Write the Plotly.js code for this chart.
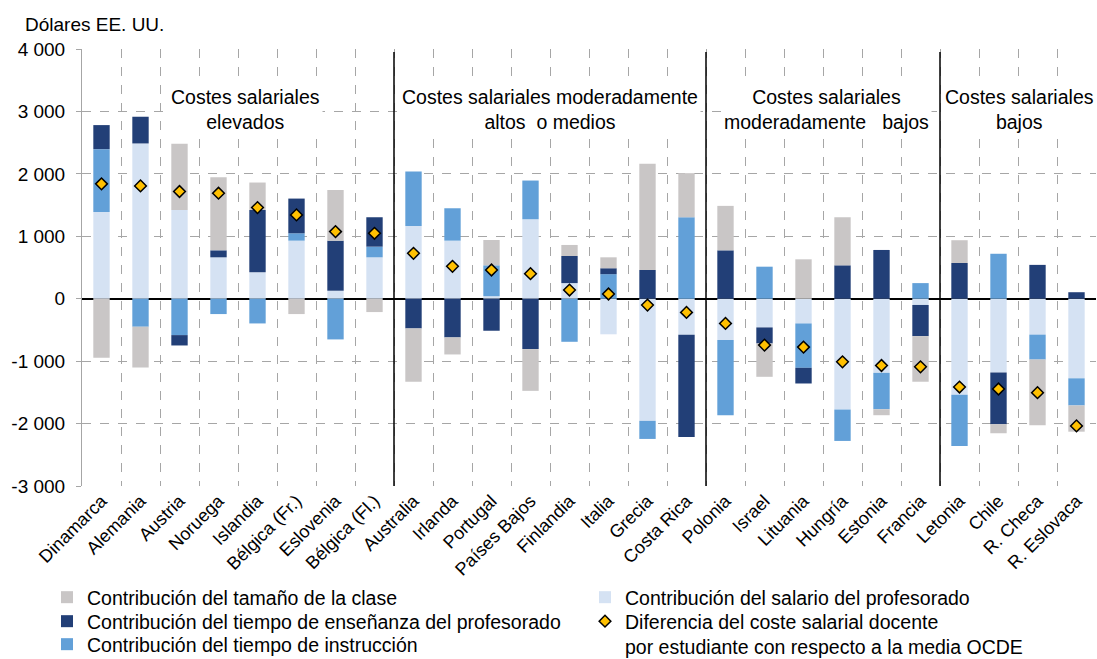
<!DOCTYPE html>
<html>
<head>
<meta charset="utf-8">
<script src="https://cdn.plot.ly/plotly-3.0.1.min.js"></script>
<style>html,body{margin:0;padding:0;background:#fff;}#chart{width:1097px;height:659px;}</style>
</head>
<body>
<div id="chart"></div>
<script>
var countries = ['Dinamarca','Alemania','Austria','Noruega','Islandia','Bélgica (Fr.)','Eslovenia','Bélgica (Fl.)','Australia','Irlanda','Portugal','Países Bajos','Finlandia','Italia','Grecia','Costa Rica','Polonia','Israel','Lituania','Hungría','Estonia','Francia','Letonia','Chile','R. Checa','R. Eslovaca'];

var salary      = [1390, 2487, 1422, 663, 422, 930, 128, 663, 1166, 930, 40, 1273, 250, -570, -1957, -578, -663, -460, -396, -1775, -1187, -100, -1540, -1180, -575, -1275];
var instruction = [1006, -449, -583, -246, -396, 118, -652, 171, 871, 519, 495, 620, -690, 393, -289, 1305, -1203, 513, -711, -503, -583, 250, -819, 720, -400, -435];
var teaching    = [385, 428, -166, 112, 1000, 556, 802, 471, -476, -620, -513, -807, 434, 95, 460, -1636, 775, -257, -251, 535, 781, -500, 572, -830, 542, 104];
var classSize   = [-947, -653, 1060, 1172, 439, -246, 813, -214, -856, -273, 406, -669, 177, 175, 1700, 706, 712, -534, 631, 770, -96, -730, 365, -145, -1050, -420];
var difference  = [1840, 1807, 1717, 1690, 1460, 1342, 1075, 1048, 727, 519, 460, 401, 139, 75, -102, -219, -396, -743, -775, -1011, -1070, -1091, -1415, -1446, -1505, -2038];

var yTickVals = [-3000, -2000, -1000, 0, 1000, 2000, 3000, 4000];
var yTickText = ['-3 000', '-2 000', '-1 000', '0', '1 000', '2 000', '3 000', '4 000'];

var groupTitles = ['Costes salariales<br>elevados', 'Costes salariales moderadamente<br>altos  o medios', 'Costes salariales<br>moderadamente   bajos', 'Costes salariales<br>bajos'];
var groupCenters = [3.68, 11.5, 18.59, 23.54];
var separators = [7.5, 15.5, 21.5];

var names = {
  cls: 'Contribución del tamaño de la clase',
  sal: 'Contribución del salario del profesorado',
  tea: 'Contribución del tiempo de enseñanza del profesorado',
  ins: 'Contribución del tiempo de instrucción',
  dif: 'Diferencia del coste salarial docente<br>por estudiante con respecto a la media OCDE'
};

var FONT = 'Liberation Sans, Arial, sans-serif';
var cLight = '#D5E2F3', cMid = '#62A0D8', cDark = '#223F77', cGray = '#C9C6C6';

var traces = [
  {type:'bar', x:countries, y:salary, name:names.sal, marker:{color:cLight}, legend:'legend4'},
  {type:'bar', x:countries, y:instruction, name:names.ins, marker:{color:cMid}, legend:'legend3'},
  {type:'bar', x:countries, y:teaching, name:names.tea, marker:{color:cDark}, legend:'legend2'},
  {type:'bar', x:countries, y:classSize, name:names.cls, marker:{color:cGray}, legend:'legend'},
  {type:'scatter', mode:'markers', x:countries, y:difference, name:names.dif,
   marker:{symbol:'diamond', size:9, color:'#FFC000', line:{color:'#000', width:1.5}}, legend:'legend5'}
];

var shapes = separators.map(function(s){
  return {type:'line', xref:'x', yref:'y', x0:s, x1:s, y0:-3000, y1:3950, line:{color:'#000', width:1.5}, layer:'above'};
});

var annotations = groupTitles.map(function(t, i){
  return {xref:'x', yref:'y', x:groupCenters[i], y:3030, text:t, showarrow:false,
          font:{family:FONT, size:19.5, color:'#000'}, bgcolor:'#fff', borderpad:2, align:'center'};
});
annotations.push({xref:'paper', yref:'paper', x:-0.0582, y:(486-25)/437, xanchor:'left', yanchor:'middle',
  text:'Dólares EE. UU.', showarrow:false, font:{family:FONT, size:19, color:'#000'}});

function legendAt(leftPx, topPx, valign){
  return {xref:'container', yref:'container', x:leftPx/1097, y:1-topPx/659, xanchor:'left', yanchor:'top',
          valign:valign || 'middle', orientation:'v', font:{family:FONT, size:19.5, color:'#000'},
          tracegroupgap:0, bgcolor:'rgba(0,0,0,0)', borderwidth:0};
}

var layout = {
  width:1097, height:659,
  margin:{l:82, r:1, t:49, b:173, autoexpand:false},
  paper_bgcolor:'#fff', plot_bgcolor:'#fff',
  font:{family:FONT, color:'#000'},
  barmode:'relative', bargap:0.58,
  xaxis:{type:'category', range:[-0.5, 25.5], tickson:'boundaries', showgrid:true, gridcolor:'#A6A6A6', griddash:'dash', gridwidth:1,
         ticks:'', tickangle:-45, tickfont:{family:FONT, size:18, color:'#000'}, showline:false, zeroline:false,
         automargin:false, fixedrange:true},
  yaxis:{range:[-3000, 4000], tickvals:yTickVals, ticktext:yTickText, showgrid:true, gridcolor:'#A6A6A6', griddash:'dash', gridwidth:1,
         zeroline:true, zerolinecolor:'#000', zerolinewidth:2, showline:true, linecolor:'#A6A6A6', linewidth:1,
         ticks:'outside', ticklen:5, tickcolor:'#A6A6A6', ticklabelstandoff:7, tickfont:{family:FONT, size:19, color:'#000'},
         automargin:false, fixedrange:true},
  showlegend:true,
  legend: legendAt(47, 578),
  legend2: legendAt(47, 602),
  legend3: legendAt(47, 625),
  legend4: legendAt(585, 578),
  legend5: legendAt(585, 602, 'top'),
  shapes:shapes,
  annotations:annotations
};

Plotly.newPlot('chart', traces, layout, {displayModeBar:false, staticPlot:true});
</script>
</body>
</html>
